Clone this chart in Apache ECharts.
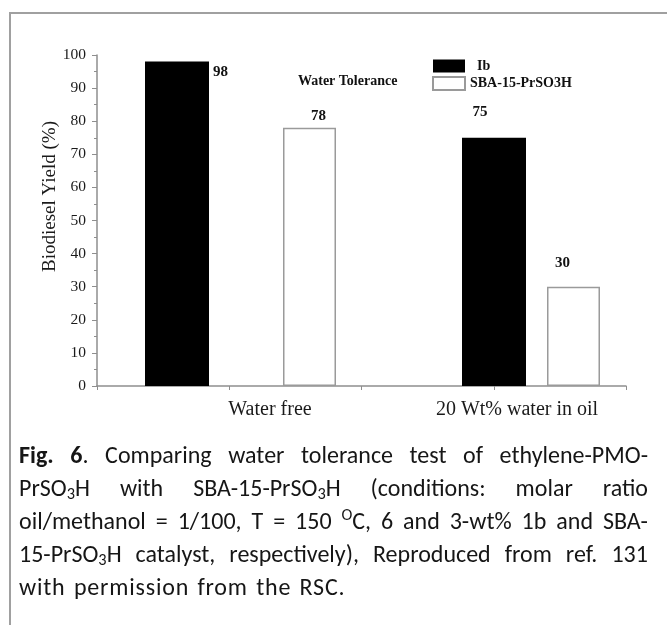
<!DOCTYPE html>
<html><head><meta charset="utf-8">
<script src="https://cdn.jsdelivr.net/npm/echarts@6/dist/echarts.min.js"></script>
<style>
html,body{margin:0;padding:0;background:#fff;width:667px;height:625px;overflow:hidden;position:relative;}
#frame{position:absolute;left:9px;top:12px;width:700px;height:640px;border-left:2px solid #a0a0a0;border-top:2px solid #a0a0a0;}
#chart{position:absolute;left:0;top:0;width:780px;height:440px;}
#cap{position:absolute;left:19px;top:438px;width:629px;font-family:Carlito,Lato,'Open Sans',sans-serif;font-size:24px;line-height:33px;color:#161616;}
#cap .ln{display:flex;justify-content:space-between;white-space:nowrap;}
#cap .ln.last{justify-content:flex-start;gap:0.35em;letter-spacing:0.8px;}
sub{font-size:0.68em;vertical-align:-0.2em;line-height:0;}
sup{font-size:0.68em;vertical-align:0.55em;line-height:0;}
</style>
</head><body>
<div id="frame"></div>
<div id="chart"></div>
<div id="cap"></div>
<script>
// ---- data ----
const categories = ['Water free', '20 Wt% water in oil'];
const seriesNames = ['Ib', 'SBA-15-PrSO3H'];
const ibValues = [98, 75];
const sbaValues = [78, 30];
const yTickValues = [0, 10, 20, 30, 40, 50, 60, 70, 80, 90, 100];
const legendTitle = 'Water Tolerance';
const yAxisName = 'Biodiesel Yield (%)';

// ---- styles ----
const SERIF = '"Liberation Serif","DejaVu Serif",serif';
const AXIS_GRAY = '#8e8e8e';
const ibLabelStyles = [
  {position: [68, 3]},
  {position: 'top', distance: 18, offset: [-14, 0]}
];
const sbaLabelStyles = [
  {position: 'top', distance: 4, offset: [9, 0]},
  {position: 'top', distance: 16, offset: [-11, 0]}
];
const labelBase = {show: true, fontFamily: SERIF, fontWeight: 'bold', fontSize: 15, color: '#111'};

const yMin = yTickValues[0], yMax = yTickValues[yTickValues.length - 1];
const yInterval = yTickValues[1] - yTickValues[0];

const PLOT_TOP = 55, PLOT_H = 331;
const hiddenY = (i) => ({gridIndex: i, type: 'value', min: yMin, max: yMax, show: false});

const chart = echarts.init(document.getElementById('chart'), null, {renderer: 'canvas'});
chart.setOption({
  animation: false,
  backgroundColor: 'transparent',
  grid: [
    {left: 97, top: PLOT_TOP, width: 529, height: PLOT_H},
    {left: 18.5, top: PLOT_TOP, width: 634, height: PLOT_H},
    {left: 177.5, top: PLOT_TOP, width: 528, height: PLOT_H},
    {left: 146.5, top: PLOT_TOP, width: 494, height: PLOT_H}
  ],
  legend: {
    orient: 'vertical', left: 427, top: 54, itemWidth: 32, itemHeight: 13, itemGap: 3,
    icon: 'rect',
    data: [{name: seriesNames[0], textStyle: {padding: [0, 0, 0, 7]}}, {name: seriesNames[1]}],
    textStyle: {fontFamily: SERIF, fontWeight: 'bold', fontSize: 14, color: '#111'}
  },
  graphic: [{
    type: 'text', left: 298, top: 74,
    style: {text: legendTitle, fontFamily: SERIF, fontWeight: 'bold', fontSize: 14, fill: '#111'}
  }],
  xAxis: [
    {gridIndex: 0, type: 'value', min: 0, max: 4, interval: 1,
     axisLine: {show: true, lineStyle: {color: AXIS_GRAY, width: 1.5}},
     axisTick: {show: true, length: 4, lineStyle: {color: AXIS_GRAY}},
     axisLabel: {show: false}, splitLine: {show: false}},
    {gridIndex: 1, type: 'category', data: categories, show: false},
    {gridIndex: 2, type: 'category', data: categories, show: false},
    {gridIndex: 3, type: 'category', data: categories,
     axisLine: {show: false}, axisTick: {show: false}, splitLine: {show: false},
     axisLabel: {fontFamily: SERIF, fontSize: 20, color: '#1a1a1a', margin: 14}}
  ],
  yAxis: [
    {gridIndex: 0, type: 'value', min: yMin, max: yMax, interval: yInterval,
     name: yAxisName, nameLocation: 'middle', nameGap: 37, nameRotate: 90, nameMoveOverlap: false,
     nameTextStyle: {fontFamily: SERIF, fontSize: 19, color: '#1a1a1a', padding: [0, 0, 0, 48]},
     axisLine: {show: true, lineStyle: {color: AXIS_GRAY, width: 1.5}},
     axisTick: {show: true, length: 5, lineStyle: {color: AXIS_GRAY}},
     minorTick: {show: true, splitNumber: 2, length: 3, lineStyle: {color: AXIS_GRAY}},
     axisLabel: {fontFamily: SERIF, fontSize: 15.5, color: '#1a1a1a', margin: 11},
     splitLine: {show: false}},
    hiddenY(1), hiddenY(2), hiddenY(3)
  ],
  series: [
    {type: 'bar', name: seriesNames[0], xAxisIndex: 1, yAxisIndex: 1, barWidth: 64,
     itemStyle: {color: '#000', borderColor: '#777', borderWidth: 0},
     data: ibValues.map((v, i) => ({value: v, label: Object.assign({}, labelBase, ibLabelStyles[i])}))},
    {type: 'bar', name: seriesNames[1], xAxisIndex: 2, yAxisIndex: 2, barWidth: 53,
     itemStyle: {color: '#fff', borderColor: '#9a9a9a', borderWidth: 1.5},
     data: sbaValues.map((v, i) => ({value: v, label: Object.assign({}, labelBase, sbaLabelStyles[i])}))}
  ]
});

// ---- caption ----
const captionLines = [
  ['<b>Fig.</b>', '<b>6</b>.', 'Comparing', 'water', 'tolerance', 'test', 'of', 'ethylene-PMO-'],
  ['PrSO<sub>3</sub>H', 'with', 'SBA-15-PrSO<sub>3</sub>H', '(conditions:', 'molar', 'ratio'],
  ['oil/methanol', '=', '1/100,', 'T', '=', '150', '<sup>O</sup>C,', '6', 'and', '3-wt%', '1b', 'and', 'SBA-'],
  ['15-PrSO<sub>3</sub>H', 'catalyst,', 'respectively),', 'Reproduced', 'from', 'ref.', '131'],
  ['with', 'permission', 'from', 'the', 'RSC.']
];
const cap = document.getElementById('cap');
captionLines.forEach((words, i) => {
  const d = document.createElement('div');
  d.className = 'ln' + (i === captionLines.length - 1 ? ' last' : '');
  d.innerHTML = words.map(w => '<span>' + w + '</span>').join('');
  cap.appendChild(d);
});
</script>
</body></html>
